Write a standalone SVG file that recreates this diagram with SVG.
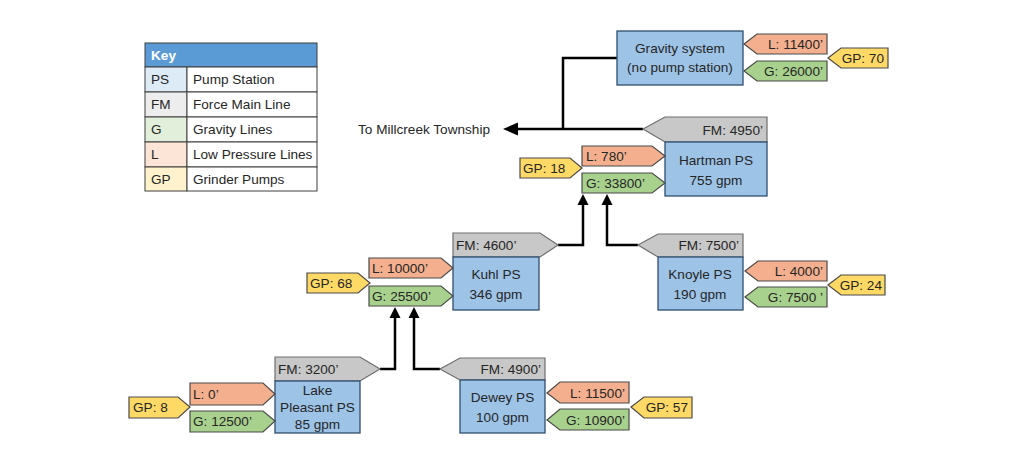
<svg xmlns="http://www.w3.org/2000/svg" width="1030" height="450" viewBox="0 0 1030 450">
<style>
text{font-family:"Liberation Sans",Arial,sans-serif;font-size:13.6px;fill:#262626}
.ps{fill:#9DC3E6;stroke:#2F4E6F;stroke-width:1.3}
.fm{fill:#C8C8C8;stroke:#6E6E6E;stroke-width:1.2}
.l{fill:#F4B08E;stroke:#4A4A4A;stroke-width:1.2}
.g{fill:#A9D18E;stroke:#4A4A4A;stroke-width:1.2}
.gp{fill:#FFD966;stroke:#4A4A4A;stroke-width:1.2}
.c{text-anchor:middle}
.r{text-anchor:end}
.ln{fill:none;stroke:#000;stroke-width:2.5}
.ah{fill:#000}
.kb{stroke:#3F3F3F;stroke-width:1}
</style>
<rect width="1030" height="450" fill="#fff"/>
<g id="key">
<rect x="145" y="43" width="172" height="24" fill="#5B9BD5" class="kb"/>
<text x="151" y="60" style="fill:#fff;font-weight:bold">Key</text>
<rect x="145" y="67" width="42" height="25" fill="#DDEBF7" class="kb"/>
<rect x="187" y="67" width="130" height="25" fill="#fff" class="kb"/>
<rect x="145" y="92" width="42" height="25" fill="#EDEDED" class="kb"/>
<rect x="187" y="92" width="130" height="25" fill="#fff" class="kb"/>
<rect x="145" y="117" width="42" height="25" fill="#E2EFDA" class="kb"/>
<rect x="187" y="117" width="130" height="25" fill="#fff" class="kb"/>
<rect x="145" y="142" width="42" height="25" fill="#FCE4D6" class="kb"/>
<rect x="187" y="142" width="130" height="25" fill="#fff" class="kb"/>
<rect x="145" y="167" width="42" height="24" fill="#FFF2CC" class="kb"/>
<rect x="187" y="167" width="130" height="24" fill="#fff" class="kb"/>
<text x="151" y="84">PS</text><text x="193" y="84">Pump Station</text>
<text x="151" y="109">FM</text><text x="193" y="109">Force Main Line</text>
<text x="151" y="134">G</text><text x="193" y="134">Gravity Lines</text>
<text x="151" y="159">L</text><text x="193" y="159">Low Pressure Lines</text>
<text x="151" y="184">GP</text><text x="193" y="184">Grinder Pumps</text>
</g>
<g id="connectors">
<polyline class="ln" points="617,58 563,58 563,129"/>
<polyline class="ln" points="643,129 515,129"/>
<polygon class="ah" points="503,129 518,122.5 518,135.5"/>
<text x="358" y="134">To Millcreek Township</text>
<polyline class="ln" points="558,245 583,245 583,203"/>
<polygon class="ah" points="583,194 577.5,205 588.5,205"/>
<polyline class="ln" points="638,245 607,245 607,203"/>
<polygon class="ah" points="607,194 601.5,205 612.5,205"/>
<polyline class="ln" points="380,369 395,369 395,316"/>
<polygon class="ah" points="395,307 389.5,318 400.5,318"/>
<polyline class="ln" points="440,369 414,369 414,316"/>
<polygon class="ah" points="414,307 408.5,318 419.5,318"/>
</g>
<g id="gravity">
<rect class="ps" x="617" y="31" width="126" height="54"/>
<text class="c" x="680" y="53">Gravity system</text>
<text class="c" x="680" y="72">(no pump station)</text>
<polygon class="l" points="744,44 757,34 827,34 827,54 757,54"/>
<text class="r" x="823" y="49">L: 11400’</text>
<polygon class="g" points="744,71 757,61 827,61 827,81 757,81"/>
<text class="r" x="823" y="76">G: 26000’</text>
<polygon class="gp" points="828,58 841,48 888,48 888,68 841,68"/>
<text class="r" x="884" y="63">GP: 70</text>
</g>
<g id="hartman">
<polygon class="fm" points="643,129 665,117 767,117 767,142 665,142"/>
<text class="r" x="763" y="135">FM: 4950’</text>
<rect class="ps" x="665" y="142" width="102" height="54"/>
<text class="c" x="716" y="165">Hartman PS</text>
<text class="c" x="716" y="185">755 gpm</text>
<polygon class="l" points="582,146 652,146 665,156 652,166 582,166"/>
<text x="586" y="161">L: 780’</text>
<polygon class="g" points="582,173 652,173 665,183 652,193 582,193"/>
<text x="586" y="188">G: 33800’</text>
<polygon class="gp" points="520,158 570,158 582,168 570,178 520,178"/>
<text x="523" y="173">GP: 18</text>
</g>
<g id="kuhl">
<polygon class="fm" points="453,233 540,233 558,245 540,257 453,257"/>
<text x="456" y="250">FM: 4600’</text>
<rect class="ps" x="453" y="257" width="86" height="53"/>
<text class="c" x="496" y="279">Kuhl PS</text>
<text class="c" x="496" y="299">346 gpm</text>
<polygon class="l" points="369,258 441,258 453,268 441,278 369,278"/>
<text x="372" y="273">L: 10000’</text>
<polygon class="g" points="369,286 441,286 453,296 441,306 369,306"/>
<text x="372" y="301">G: 25500’</text>
<polygon class="gp" points="307,273 358,273 370,283 358,293 307,293"/>
<text x="310" y="288">GP: 68</text>
</g>
<g id="knoyle">
<polygon class="fm" points="638,245 658,234 743,234 743,257 658,257"/>
<text class="r" x="739" y="250">FM: 7500’</text>
<rect class="ps" x="658" y="257" width="85" height="53"/>
<text class="c" x="700" y="279">Knoyle PS</text>
<text class="c" x="700" y="299">190 gpm</text>
<polygon class="l" points="745,271 758,261 827,261 827,281 758,281"/>
<text class="r" x="823" y="276">L: 4000’</text>
<polygon class="g" points="745,297 758,287 827,287 827,307 758,307"/>
<text class="r" x="823" y="302">G: 7500 ’</text>
<polygon class="gp" points="828,285 841,275 885,275 885,295 841,295"/>
<text class="r" x="882" y="290">GP: 24</text>
</g>
<g id="lakepleasant">
<polygon class="fm" points="275,357 360,357 380,369 360,381 275,381"/>
<text x="278" y="374">FM: 3200’</text>
<rect class="ps" x="275" y="381" width="85" height="52"/>
<text class="c" x="317.5" y="395">Lake</text>
<text class="c" x="317.5" y="412">Pleasant PS</text>
<text class="c" x="317.5" y="429">85 gpm</text>
<polygon class="l" points="190,383 263,383 275,394 263,405 190,405"/>
<text x="193" y="399">L: 0’</text>
<polygon class="g" points="190,411 263,411 275,421 263,432 190,432"/>
<text x="193" y="426">G: 12500’</text>
<polygon class="gp" points="129,397 178,397 190,407 178,418 129,418"/>
<text x="133" y="412">GP: 8</text>
</g>
<g id="dewey">
<polygon class="fm" points="440,369 460,358 545,358 545,380 460,380"/>
<text class="r" x="541" y="374">FM: 4900’</text>
<rect class="ps" x="460" y="380" width="85" height="53"/>
<text class="c" x="502.5" y="402">Dewey PS</text>
<text class="c" x="502.5" y="422">100 gpm</text>
<polygon class="l" points="547,393 560,382 629,382 629,403 560,403"/>
<text class="r" x="625" y="398">L: 11500’</text>
<polygon class="g" points="547,420 560,409 629,409 629,430 560,430"/>
<text class="r" x="625" y="425">G: 10900’</text>
<polygon class="gp" points="631,407 644,397 692,397 692,418 644,418"/>
<text class="r" x="688" y="412">GP: 57</text>
</g>
</svg>
